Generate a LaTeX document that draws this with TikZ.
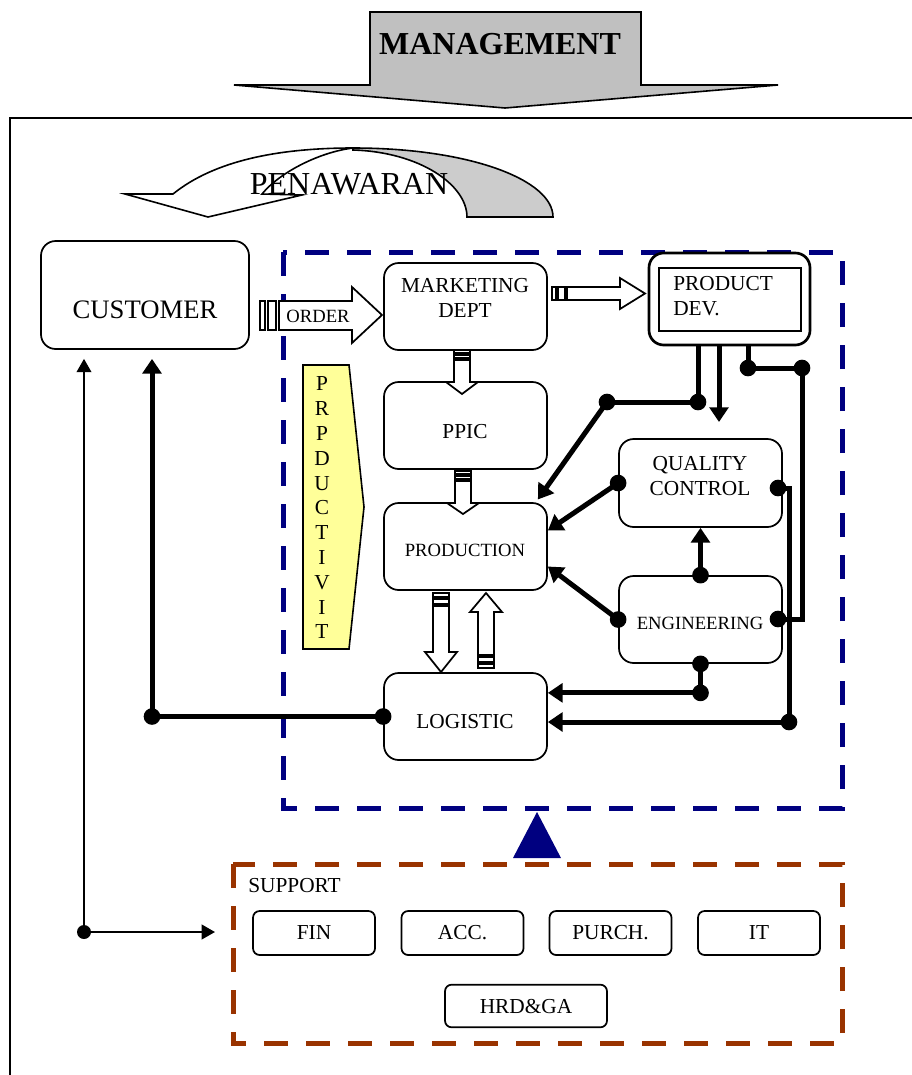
\documentclass[tikz,border=0pt]{standalone}
\usepackage{fontspec}
\setmainfont{Liberation Serif}
\usetikzlibrary{arrows.meta,calc}
\definecolor{navy}{HTML}{000080}
\definecolor{rust}{HTML}{993300}
\definecolor{mgmtgray}{HTML}{C0C0C0}
\definecolor{bandgray}{HTML}{CCCCCC}
\definecolor{pale}{HTML}{FFFF99}

\begin{document}
\begin{tikzpicture}[x=0.75pt,y=-0.75pt,
  f14/.style={font=\fontsize{14}{17}\selectfont, inner sep=0pt},
  f16/.style={font=\fontsize{16}{19}\selectfont, inner sep=0pt},
  f20/.style={font=\fontsize{20}{24}\selectfont, inner sep=0pt},
  f24/.style={font=\fontsize{24}{28}\selectfont, inner sep=0pt},
  box/.style={draw, line width=1.3pt, rounded corners=11pt, fill=white, inner sep=0pt,
              minimum width=122.25pt, minimum height=65.25pt},
  sbox/.style={draw, line width=1.3pt, rounded corners=5pt, fill=white, inner sep=0pt,
               minimum width=91.5pt, minimum height=33pt, f16},
  conn/.style={line width=3.75pt},
  tip/.style={-{Triangle[length=11pt,width=14pt]}},
  thinconn/.style={line width=1.5pt},
  thintip/.style={-{Triangle[length=10pt,width=11pt]}},
  dot/.style={circle, fill=black, inner sep=0pt, minimum size=12.5pt},
  hollow/.style={draw, line width=1.3pt, fill=white, line join=miter},
  frame/.style={line width=3.75pt, dash pattern=on 18pt off 13.5pt},
]
\useasboundingbox (0,0) rectangle (912,1075);

% page frame
\draw[line width=1.5pt] (10,1075) -- (10,118) -- (912,118);

% management arrow
\draw[line width=1.2pt, fill=mgmtgray, line join=miter]
  (370,12) -- (641,12) -- (641,85) -- (778,85) -- (505,108) -- (234,85) -- (370,85) -- cycle;
\node[f24, font=\fontsize{24}{28}\selectfont\bfseries] (mgmt) at (500,44) {MANAGEMENT};

% curved offer arrow
\draw[line width=1.2pt, fill=bandgray]
  (353,148) .. controls (470,148) and (553,180) .. (553,217) -- (467,217)
  .. controls (467,185) and (420,152) .. (353,150) -- cycle;
\draw[line width=1.2pt, fill=white, line join=miter]
  (125,194) -- (173,194) .. controls (215,160) and (280,148) .. (353,148)
  .. controls (320,152) and (280,172) .. (262,194) -- (302,195) -- (208,217) -- cycle;
\node[f24] (pen) at (349,184) {PENAWARAN};

% dashed groups
\draw[navy, frame] (283,252) rectangle (842,808);
\draw[rust, frame] (233,864) rectangle (842,1043);
\fill[navy] (513,858) -- (537,812) -- (561,858) -- cycle;

% productivity banner
\draw[line width=1.2pt, fill=pale, line join=miter]
  (303,365) -- (349,365) -- (364,507) -- (349,649) -- (303,649) -- cycle;
\foreach \ch [count=\i from 0] in {P,R,P,D,U,C,T,I,V,I,T}
  \node[f16] (prd\i) at (322,{384+24.8*\i}) {\ch};

% process boxes
\node[box, minimum width=156pt, minimum height=81pt] (cust) at (145,295) {};
\node[f20] (custtxt) at (145,310) {CUSTOMER};
\node[box] (mkt) at (465.5,306.5) {};
\node[f16, align=center] (mkttxt) at (465,298) {MARKETING\\DEPT};
\node[box] (ppic) at (465.5,425.5) {};
\node[f16] (ppictxt) at (465,432) {PPIC};
\node[box] (prod) at (465.5,546.5) {};
\node[f14] (prodtxt) at (465,550) {PRODUCTION};
\node[box] (log) at (465.5,716.5) {};
\node[f16] (logtxt) at (465,722) {LOGISTIC};
\node[box, line width=2pt, minimum width=120.75pt, minimum height=69pt] (pd) at (729.5,299) {};
\node[draw, line width=2pt, minimum width=106.5pt, minimum height=47.25pt] (pdin) at (730,299.5) {};
\node[f16, align=left, anchor=west] (pdtxt) at (673,296) {PRODUCT\\DEV.};
\node[box, minimum height=66pt] (qc) at (700.5,483) {};
\node[f16, align=center] (qctxt) at (700,476) {QUALITY\\CONTROL};
\node[box] (eng) at (700.5,619.5) {};
\node[f14] (engtxt) at (700,623) {ENGINEERING};

% support functions
\node[f16, anchor=west] (suplbl) at (248,886) {SUPPORT};
\node[sbox] (fin) at (314,933) {FIN};
\node[sbox] (acc) at (462.5,933) {ACC.};
\node[sbox] (purch) at (610.5,933) {PURCH.};
\node[sbox] (it) at (759,933) {IT};
\node[sbox, minimum width=121.5pt, minimum height=32pt] (hrd) at (526,1006) {HRD\&GA};

% junction points
\coordinate (j1) at (698,402);
\coordinate (j0) at (607,402);
\coordinate (q) at (719,422);
\coordinate (j3) at (748,368);
\coordinate (j4) at (802,368);
\coordinate (engR) at (778,619);
\coordinate (qcR) at (778,488);
\coordinate (j5) at (789,722);
\coordinate (engB) at (eng.south);
\coordinate (j6) at ($(eng.south)+(0,29)$);
\coordinate (engT) at (eng.north);
\coordinate (engL) at (eng.west);
\coordinate (qcL) at (qc.west);
\coordinate (logL) at (log.west);
\coordinate (j7) at (152,716.5);
\coordinate (j8) at (84,932);
\coordinate (j9) at (215,932);
\coordinate (up7) at ($(j7 |- cust.south)+(0,9)$);
\coordinate (up8) at ($(j8 |- cust.south)+(0,9)$);

% information flow
\draw[conn] (pd.south -| j1) -- (j1) -- (j0);
\draw[conn, tip] (j0) -- ([xshift=-7.5pt,yshift=2pt]prod.north east);
\draw[conn, tip] (pd.south -| q) -- (q);
\draw[conn] (pd.south -| j3) -- (j3) -- (j4) |- (engR);
\draw[conn] (qcR) -| (j5);
\draw[conn, tip] (j5) -- (j5 -| log.east);
\draw[conn] (engB) -- (j6);
\draw[conn, tip] (j6) -- (j6 -| log.east);
\draw[conn, tip] (engT) -- (qc.south);
\draw[conn, tip] (engL) -- ([yshift=-15pt]prod.east);
\draw[conn, tip] (qcL) -- ([yshift=12pt]prod.east);
\draw[conn] (logL) -- (j7);
\draw[conn, tip] (j7) -- (up7);
\draw[thinconn, thintip] (j8) -- (up8);
\draw[thinconn, thintip] (j8) -- (j9);

\foreach \p in {j1,j0,j3,j4,engR,qcR,j5,engB,j6,engT,engL,qcL,logL,j7}
  \node[dot] (dot-\p) at (\p) {};
\node[dot, minimum size=10.5pt] (dot-j8) at (j8) {};

% material flow (striped block arrows)
\draw[hollow] (260,301) rectangle (265,330);
\draw[hollow] (268,301) rectangle (276,330);
\draw[hollow] (279,301) -- (352,301) -- (352,287) -- (382,315) -- (352,343) -- (352,330) -- (279,330) -- cycle;
\node[f14] (order) at (318,316) {ORDER};

\draw[hollow] (552,287) rectangle (556,300);
\draw[hollow] (558,287) rectangle (565,300);
\draw[hollow] (567,287) -- (620,287) -- (620,278) -- (645,293.5) -- (620,309) -- (620,300) -- (567,300) -- cycle;

\draw[hollow] (454,350) rectangle (470,353);
\draw[hollow] (454,355) rectangle (470,358);
\draw[hollow] (454,360) -- (454,382) -- (446,382) -- (462,394) -- (478,382) -- (470,382) -- (470,360) -- cycle;

\draw[hollow] (455,471) rectangle (471,474);
\draw[hollow] (455,476) rectangle (471,479);
\draw[hollow] (455,481) -- (455,503) -- (447,503) -- (463,514) -- (479,503) -- (471,503) -- (471,481) -- cycle;

\draw[hollow] (433,593) rectangle (449,597);
\draw[hollow] (433,599) rectangle (449,604);
\draw[hollow] (433,606) -- (433,652) -- (425,652) -- (441,672) -- (457,652) -- (449,652) -- (449,606) -- cycle;

\draw[hollow] (478,657) rectangle (494,662);
\draw[hollow] (478,664) rectangle (494,668);
\draw[hollow] (478,655) -- (478,612) -- (470,612) -- (486,593) -- (502,612) -- (494,612) -- (494,655) -- cycle;
\end{tikzpicture}
\end{document}
